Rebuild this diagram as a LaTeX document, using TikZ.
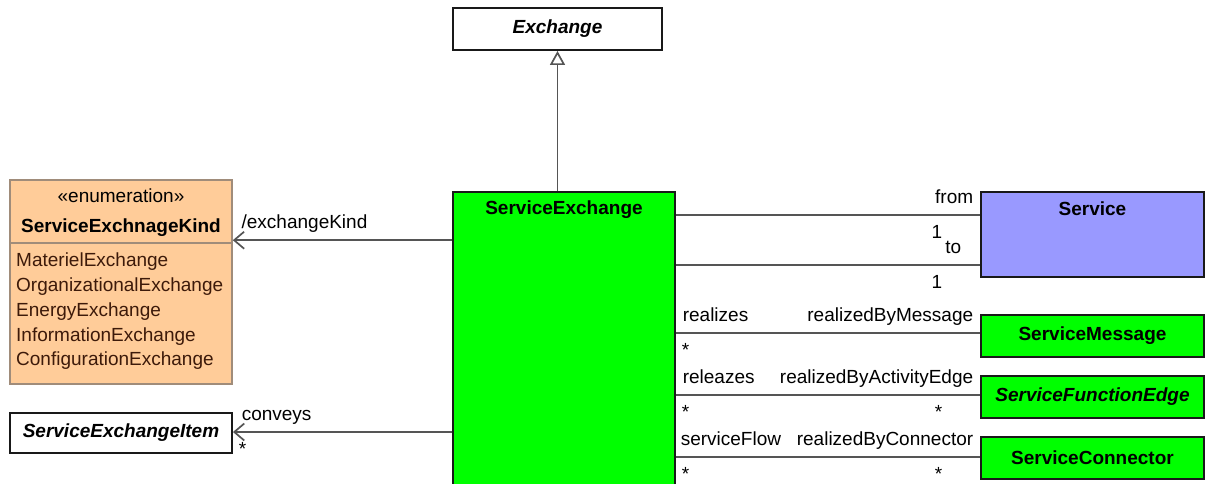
\documentclass[tikz,border=0pt]{standalone}
\usepackage{fontspec}
\setmainfont{Liberation Sans}
\usepackage{tikz}
\usetikzlibrary{arrows.meta}
\definecolor{exgreen}{HTML}{00FF00}
\definecolor{svcblue}{HTML}{9999FF}
\definecolor{kindfill}{HTML}{FFCC99}
\definecolor{kindline}{HTML}{A08C7A}
\definecolor{kindtext}{HTML}{3D1A0A}
\definecolor{wire}{HTML}{555555}

\begin{document}
\begin{tikzpicture}[x=1pt,y=-1pt,font=\fontsize{19}{23}\selectfont,cls/.style={draw=black!90,line width=1.9pt,fill=white,inner sep=0pt},clsname/.style={anchor=base,inner sep=0pt,font=\fontsize{19}{23}\selectfont\bfseries},link/.style={draw=wire,line width=1.7pt},assoc/.style={link,-{Straight Barb[length=10pt,width=17pt]}},gen/.style={link,-{Triangle[open,length=14pt,width=15pt,fill=white]}},nearabove/.style={pos=0,anchor=base west,inner sep=0pt,xshift=6pt,yshift=12pt},nearbelow/.style={pos=0,anchor=base west,inner sep=0pt,xshift=5pt,yshift=-23pt},farabove/.style={pos=1,anchor=base east,inner sep=0pt,xshift=-6pt,yshift=12pt},farbelow/.style={pos=1,anchor=base east,inner sep=0pt,xshift=-37pt,yshift=-23pt}]
\useasboundingbox (0,0) rectangle (1205,483);
\node[cls,minimum width=209pt,minimum height=42pt,font=\fontsize{19}{23}\selectfont\bfseries\itshape] (exchange) at (557.5,29) {Exchange};
\node[cls,fill=exgreen,minimum width=222pt,minimum height=310pt] (sx) at (564,347) {};
\node[clsname] at ([yshift=-23pt]sx.north) {ServiceExchange};
\node[cls,draw=kindline,line width=1.6pt,fill=kindfill,minimum width=222pt,minimum height=204pt] (kind) at (121,282) {};
\node[anchor=base,inner sep=0pt] at ([yshift=-23pt]kind.north) {«enumeration»};
\node[clsname] at ([yshift=-53pt]kind.north) {ServiceExchnageKind};
\draw[draw=kindline,line width=1.6pt] ([yshift=-64pt]kind.north west) -- ([yshift=-64pt]kind.north east);
\node[anchor=north west,align=left,inner sep=0pt,text=kindtext,font=\fontsize{19}{24.75}\selectfont] (kinditems) at (16,253) {MaterielExchange\\OrganizationalExchange\\EnergyExchange\\InformationExchange\\ConfigurationExchange};
\node[cls,minimum width=222pt,minimum height=40pt,font=\fontsize{19}{23}\selectfont\bfseries\itshape] (item) at (121,433) {ServiceExchangeItem};
\node[cls,fill=svcblue,minimum width=223pt,minimum height=85pt] (service) at (1092.5,234.5) {};
\node[clsname] at ([yshift=-24pt]service.north) {Service};
\node[cls,fill=exgreen,minimum width=223pt,minimum height=42pt,font=\fontsize{19}{23}\selectfont\bfseries] (message) at (1092.5,336) {ServiceMessage};
\node[cls,fill=exgreen,minimum width=223pt,minimum height=42pt,font=\fontsize{19}{23}\selectfont\bfseries\itshape] (edge) at (1092.5,397) {ServiceFunctionEdge};
\node[cls,fill=exgreen,minimum width=223pt,minimum height=42pt,font=\fontsize{19}{23}\selectfont\bfseries] (connector) at (1092.5,458) {ServiceConnector};
\coordinate (kindport) at ([yshift=-61pt]kind.north east);
\coordinate (itemport) at ([yshift=1pt]item.east);
\coordinate (fromport) at ([yshift=-24pt]service.north west);
\coordinate (toport) at ([yshift=-74pt]service.north west);
\coordinate (messageport) at ([yshift=3pt]message.west);
\coordinate (edgeport) at ([yshift=2pt]edge.west);
\coordinate (connectorport) at ([yshift=1pt]connector.west);
\draw[gen] (exchange.south |- sx.north) -- (exchange.south);
\draw[assoc] (kindport -| sx.west) -- (kindport) node[pos=1,anchor=base west,inner sep=0pt,xshift=8pt,yshift=12pt]{/exchangeKind};
\draw[assoc] (itemport -| sx.west) -- (itemport) node[pos=1,anchor=base west,inner sep=0pt,xshift=8pt,yshift=12pt]{conveys} node[pos=1,anchor=base west,inner sep=0pt,xshift=5pt,yshift=-23pt]{*};
\draw[link] (fromport -| sx.east) -- (fromport) node[farabove]{from} node[farbelow]{1};
\draw[link] (toport -| sx.east) -- (toport) node[farabove,xshift=-12pt]{to} node[farbelow]{1};
\draw[link] (messageport -| sx.east) -- (messageport) node[nearabove]{realizes} node[nearbelow]{*} node[farabove]{realizedByMessage};
\draw[link] (edgeport -| sx.east) -- (edgeport) node[nearabove]{releazes} node[nearbelow]{*} node[farabove]{realizedByActivityEdge} node[farbelow]{*};
\draw[link] (connectorport -| sx.east) -- (connectorport) node[nearabove,xshift=-2pt]{serviceFlow} node[nearbelow]{*} node[farabove]{realizedByConnector} node[farbelow]{*};
\end{tikzpicture}
\end{document}
